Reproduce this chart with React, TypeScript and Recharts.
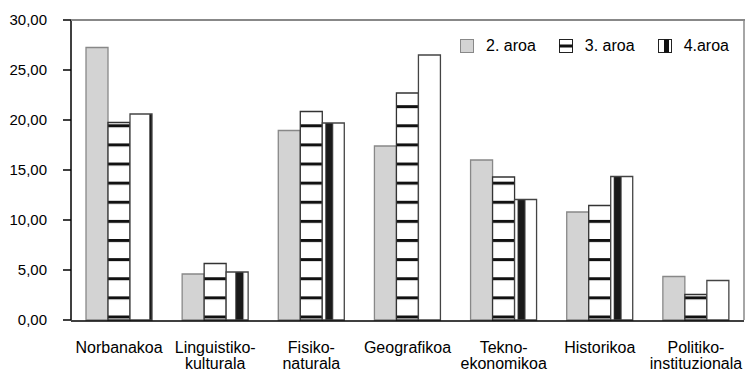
import { Bar, BarChart, Cell, Legend, XAxis, YAxis } from "recharts";

const categories = [
  "Norbanakoa",
  "Linguistiko-kulturala",
  "Fisiko-naturala",
  "Geografikoa",
  "Tekno-ekonomikoa",
  "Historikoa",
  "Politiko-instituzionala",
];
const aroa2 = [27.25, 4.6, 18.95, 17.4, 16.0, 10.8, 4.35];
const aroa3 = [19.75, 5.65, 20.85, 22.7, 14.3, 11.45, 2.55];
const aroa4 = [20.6, 4.8, 19.7, 26.5, 12.05, 14.35, 3.95];
const yTicks = [0, 5, 10, 15, 20, 25, 30];

const seriesNames = ["2. aroa", "3. aroa", "4.aroa"];

// fill of each 4.aroa bar (where the dark band sits)
const band4Fill = [
  "url(#vband-right)",
  "url(#vband-mid)",
  "url(#vband-left)",
  "#fff",
  "url(#vband-left)",
  "url(#vband-left)",
  "#fff",
];

const data = categories.map((name, i) => ({
  name,
  a2: aroa2[i],
  a3: aroa3[i],
  a4: aroa4[i],
}));

const edgeTicks = categories.map((_, i) => i).concat(categories.length);

const FONT = "'Liberation Sans', Arial, sans-serif";
const fmt = (v: number) => v.toFixed(2).replace(".", ",");

const CategoryTick = (props: any) => {
  const { x, y, payload } = props;
  const label: string = payload.value;
  const cut = label.indexOf("-");
  const lines = cut > 0 ? [label.slice(0, cut + 1), label.slice(cut + 1)] : [label];
  return (
    <text x={x} y={y} textAnchor="middle" fontSize={16} fill="#000" fontFamily={FONT}>
      {lines.map((line, i) => (
        <tspan key={i} x={x} dy={i === 0 ? 33 : 16}>
          {line}
        </tspan>
      ))}
    </text>
  );
};

const LegendIcon = ({ kind }: { kind: number }) => (
  <svg width={14} height={14} style={{ display: "block", flex: "none" }}>
    {kind === 0 && <rect x={0.5} y={0.5} width={13} height={13} fill="#d3d3d3" stroke="#888" />}
    {kind === 1 && (
      <>
        <rect x={0.5} y={0.5} width={13} height={13} fill="#fff" stroke="#222" />
        <rect x={0.5} y={5.5} width={13} height={3} fill="#111" />
      </>
    )}
    {kind === 2 && (
      <>
        <rect x={0.5} y={0.5} width={13} height={13} fill="#fff" stroke="#222" />
        <rect x={6} y={0.5} width={5} height={13} fill="#111" />
      </>
    )}
  </svg>
);

const ChartLegend = () => (
  <div style={{ display: "flex", alignItems: "center", fontFamily: FONT, fontSize: 16, whiteSpace: "nowrap" }}>
    {seriesNames.map((s, i) => (
      <div key={s} style={{ display: "flex", alignItems: "center", marginRight: 23 }}>
        <LegendIcon kind={i} />
        <span style={{ marginLeft: 12 }}>{s}</span>
      </div>
    ))}
  </div>
);

export default function App() {
  return (
    <div style={{ position: "absolute", left: 0, top: 0, width: 749, height: 371, background: "#fff" }}>
      <BarChart
        width={749}
        height={371}
        data={data}
        margin={{ top: 20, right: 4, left: 0, bottom: 0 }}
        barCategoryGap={15}
        barGap={0}
      >
        <defs>
          <pattern id="hstripe" patternUnits="userSpaceOnUse" x={0} y={315.5} width={20} height={19.12}>
            <rect width={20} height={19.12} fill="#fff" />
            <rect y={0} width={20} height={3} fill="#111" />
          </pattern>
          <pattern id="vband-left" patternContentUnits="objectBoundingBox" width={1} height={1}>
            <rect width={1} height={1} fill="#fff" />
            <rect x={0.14} width={0.35} height={1} fill="#1a1a1a" />
          </pattern>
          <pattern id="vband-mid" patternContentUnits="objectBoundingBox" width={1} height={1}>
            <rect width={1} height={1} fill="#fff" />
            <rect x={0.42} width={0.37} height={1} fill="#1a1a1a" />
          </pattern>
          <pattern id="vband-right" patternContentUnits="objectBoundingBox" width={1} height={1}>
            <rect width={1} height={1} fill="#fff" />
            <rect x={0.88} width={0.12} height={1} fill="#1a1a1a" />
          </pattern>
        </defs>
        {/* category names only; the axis line comes from the "edges" axis */}
        <XAxis
          xAxisId="cat"
          dataKey="name"
          interval={0}
          height={1}
          tickSize={0}
          tickMargin={0}
          axisLine={false}
          tickLine={false}
          tick={<CategoryTick />}
        />
        {/* axis line and tick marks at the category boundaries */}
        <XAxis
          xAxisId="edges"
          type="number"
          domain={[0, categories.length]}
          ticks={edgeTicks}
          allowDataOverflow
          tick={false}
          tickSize={6}
          height={50}
          axisLine={{ stroke: "#000", strokeWidth: 1.5 }}
          tickLine={{ stroke: "#000", strokeWidth: 1.5 }}
        />
        <YAxis
          domain={[0, 30]}
          ticks={yTicks}
          interval={0}
          width={71}
          tickSize={8}
          tickMargin={16}
          tickFormatter={fmt}
          tick={{ fontSize: 15, fill: "#000", fontFamily: FONT }}
          axisLine={{ stroke: "#000", strokeWidth: 1.5 }}
          tickLine={{ stroke: "#000", strokeWidth: 1.5 }}
        />
        <YAxis
          yAxisId="right"
          orientation="right"
          domain={[0, 30]}
          ticks={[0, 30]}
          allowDataOverflow
          width={1}
          tick={false}
          tickLine={false}
          axisLine={{ stroke: "#888", strokeWidth: 1.5 }}
        />
        <Legend
          layout="horizontal"
          verticalAlign="middle"
          align="center"
          wrapperStyle={{ top: 37, left: 460, width: 289 }}
          content={<ChartLegend />}
        />
        <Bar xAxisId="cat" dataKey="a2" name={seriesNames[0]} fill="#d3d3d3" stroke="#888" strokeWidth={1.3} isAnimationActive={false} />
        <Bar xAxisId="cat" dataKey="a3" name={seriesNames[1]} fill="url(#hstripe)" stroke="#333" strokeWidth={1.3} isAnimationActive={false} />
        <Bar xAxisId="cat" dataKey="a4" name={seriesNames[2]} stroke="#444" strokeWidth={1.3} isAnimationActive={false}>
          {data.map((d, i) => (
            <Cell key={d.name} fill={band4Fill[i]} />
          ))}
        </Bar>
      </BarChart>
      {/* top edge of the plot frame */}
      <div style={{ position: "absolute", left: 71, top: 19, width: 674, height: 1.5, background: "#888" }} />
    </div>
  );
}
